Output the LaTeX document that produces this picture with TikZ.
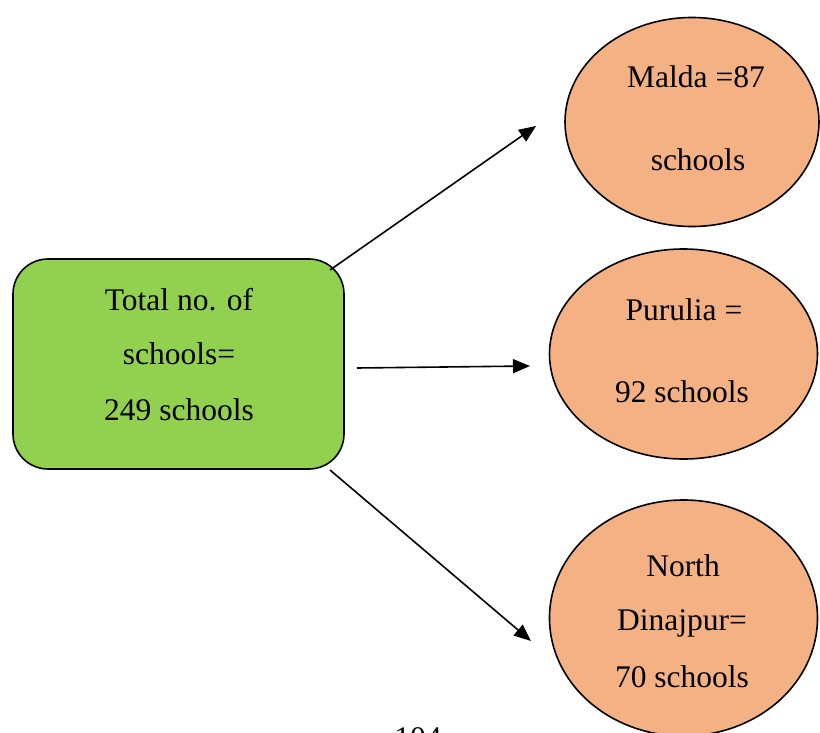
\documentclass[tikz,border=0pt]{standalone}
\usepackage{fontspec}
\setmainfont{Liberation Serif}
\usetikzlibrary{shapes.geometric,arrows.meta}
\definecolor{boxgreen}{HTML}{92D050}
\definecolor{peach}{HTML}{F4B183}
\begin{document}
\begin{tikzpicture}[x=0.5pt,y=-0.5pt,
  total/.style={draw=black,line width=0.8pt,fill=boxgreen,rounded corners=17.5pt,
    minimum width=165.5pt,minimum height=105pt,inner sep=0pt},
  district/.style={draw=black,line width=0.8pt,fill=peach,ellipse,inner sep=0pt},
  txt/.style={anchor=base,inner sep=0pt,font=\fontsize{15.75}{18}\selectfont},
  link/.style={line width=0.8pt,-{Triangle[length=8.5pt,width=7pt]}}]
\clip (0,0) rectangle (820,733);
% source box
\node[total] (tot) at (178.5,364) {};
\node[txt] (t1) at (179,310) {Total no. of};
\node[txt] (t2) at (179,364) {schools=};
\node[txt] (t3) at (179,420) {249 schools};
% district ellipses
\node[district,minimum width=127pt,minimum height=104.5pt] (malda) at (692,122) {};
\node[txt] (m1) at (696,88) {Malda =87};
\node[txt] (m2) at (698,170) {schools};
\node[district,minimum width=134pt,minimum height=105pt] (puru) at (683.5,354) {};
\node[txt] (p1) at (684,321) {Purulia =};
\node[txt] (p2) at (682,402) {92 schools};
\node[district,minimum width=134pt,minimum height=118pt] (north) at (683.5,618) {};
\node[txt] (n1) at (683,576) {North};
\node[txt] (n2) at (682,630) {Dinajpur=};
\node[txt] (n3) at (682,687) {70 schools};
% connector end points
\coordinate (a1s) at (330,270);
\coordinate (a1e) at (536,126);
\coordinate (a2s) at (357,368);
\coordinate (a2e) at (530,366);
\coordinate (a3s) at (330,470);
\coordinate (a3e) at (531,641);
\draw[link] (a1s) -- (a1e);
\draw[link] (a2s) -- (a2e);
\draw[link] (a3s) -- (a3e);
% page number
\node[txt] (pg) at (418,748) {104};
\end{tikzpicture}
\end{document}
